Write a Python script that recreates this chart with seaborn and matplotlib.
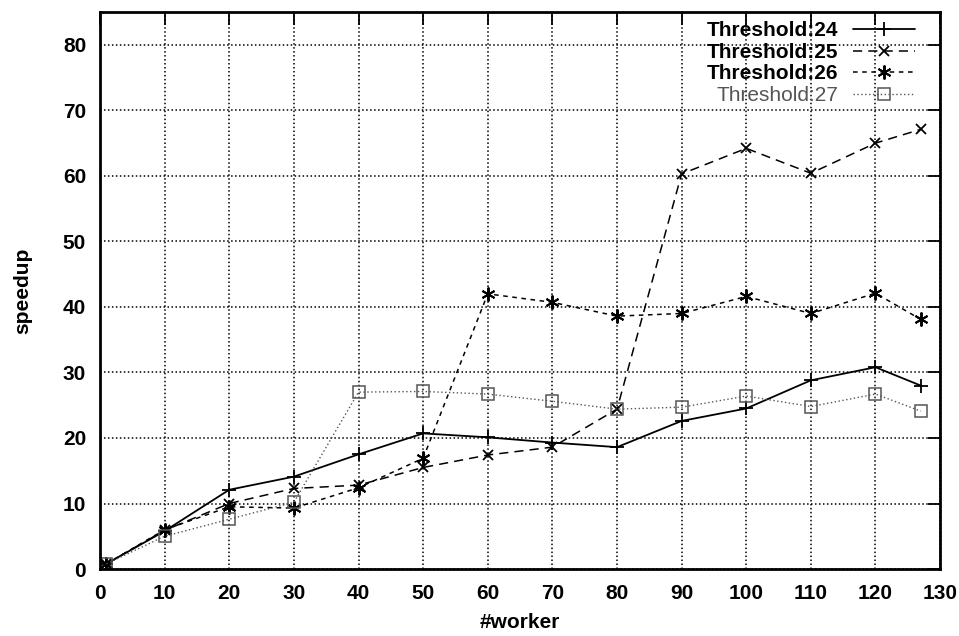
import numpy as np
import pandas as pd
import matplotlib
matplotlib.use("Agg")
import matplotlib.pyplot as plt
from matplotlib.lines import Line2D
import seaborn as sns

workers = [1, 10, 20, 30, 40, 50, 60, 70, 80, 90, 100, 110, 120, 127]
t24 = [0.8, 5.8, 12.1, 14.1, 17.5, 20.7, 20.1, 19.3, 18.6, 22.6, 24.5, 28.8, 30.8, 28.0]
t25 = [0.8, 5.9, 10.0, 12.3, 12.8, 15.5, 17.4, 18.6, 24.4, 60.3, 64.2, 60.4, 65.0, 67.1]
t26 = [0.8, 6.0, 9.5, 9.3, 12.4, 16.9, 42.0, 40.7, 38.6, 39.0, 41.6, 39.0, 42.1, 38.1]
t27 = [0.8, 5.0, 7.6, 10.2, 27.0, 27.1, 26.7, 25.6, 24.4, 24.7, 26.4, 24.8, 26.7, 24.1]
labels = ["Threshold:24", "Threshold:25", "Threshold:26", "Threshold:27"]
xticks = list(range(0, 131, 10))
yticks = list(range(0, 81, 10))

sns.set_theme(style="white")
plt.rcParams['font.family'] = ['Liberation Sans', 'DejaVu Sans']
plt.rcParams['text.color'] = 'black'
plt.rcParams['axes.labelcolor'] = 'black'

fig = plt.figure(figsize=(9.59, 6.36), dpi=100)
ax = fig.add_axes([0.1043, 0.1053, 0.8760, 0.8757])

styles = [
    dict(color="black", linestyle="-", marker="+", markersize=10, markeredgewidth=1.3,
         markerfacecolor="none", linewidth=1.3),
    dict(color="black", linestyle=(0, (6, 4)), marker="x", markersize=7, markeredgewidth=1.3,
         markerfacecolor="none", linewidth=1.1),
    dict(color="black", linestyle=(0, (3, 3)), marker=(6, 2, 0), markersize=10,
         markeredgewidth=1.4, markerfacecolor="none", linewidth=1.1),
    dict(color="#555555", linestyle=(0, (1, 1.8)), marker="s", markersize=8,
         markeredgewidth=1.1, markerfacecolor="none", linewidth=1.0),
]
series = [t24, t25, t26, t27]
for lab, vals in zip(labels, series):
    df = pd.DataFrame({"worker": workers, "speedup": vals})
    sns.lineplot(data=df, x="worker", y="speedup", ax=ax, legend=False, color="black")

handles = []
for line, st, lab in zip(ax.lines, styles, labels):
    line.set_color(st["color"])
    line.set_linestyle(st["linestyle"])
    line.set_linewidth(st["linewidth"])
    line.set_marker(st["marker"])
    line.set_markersize(st["markersize"])
    line.set_markeredgewidth(st["markeredgewidth"])
    line.set_markeredgecolor(st["color"])
    line.set_markerfacecolor("none")
    line.set_label(lab)
    handles.append(Line2D([], [], **st))

ax.set_xlim(0, 130)
ax.set_ylim(0, 85)
ax.set_xticks(xticks)
ax.set_yticks(yticks)
ax.tick_params(axis="both", direction="in", length=9, width=1.3, top=True, right=True,
               colors="black")
ax.tick_params(axis="x", pad=11)
ax.tick_params(axis="y", pad=10)
for t in ax.get_xticklabels() + ax.get_yticklabels():
    t.set_fontsize(15)
    t.set_fontweight("bold")
ax.grid(True, color="black", linestyle=(0, (1, 1.6)), linewidth=1.1)
for s in ax.spines.values():
    s.set_color("black")
    s.set_linewidth(2.0)
ax.set_xlabel("#worker", fontsize=15, fontweight="bold", labelpad=7)
ax.set_ylabel("speedup", fontsize=15, fontweight="bold", labelpad=22)

leg = ax.legend(handles=handles, labels=labels, loc="upper right",
                bbox_to_anchor=(0.9726, 0.987), frameon=False,
                markerfirst=False, fontsize=15, handlelength=3.0, borderaxespad=0.0,
                labelspacing=0.12, handletextpad=0.7, borderpad=0.1)
texts = leg.get_texts()
for t in texts[:3]:
    t.set_fontweight("bold")
    t.set_color("black")
texts[3].set_color("#555555")

fig.savefig("out.png", dpi=100)
